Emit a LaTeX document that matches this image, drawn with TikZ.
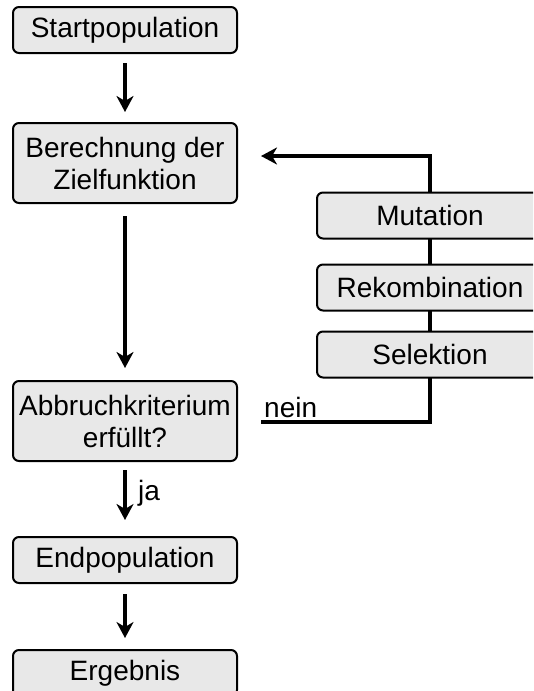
\documentclass[tikz,border=0pt]{standalone}
\usepackage{fontspec}
\setmainfont{Liberation Sans}
\usetikzlibrary{arrows.meta,backgrounds}
\definecolor{boxgray}{HTML}{E8E8E8}
\tikzset{
  box/.style={draw=black, line width=2pt, fill=boxgray, rounded corners=6pt,
    minimum width=224pt, minimum height=46pt, align=center, inner sep=0pt,
    font=\fontsize{28}{32}\selectfont},
  tallbox/.style={box, minimum height=80pt},
  flow/.style={line width=3.6pt, -{Stealth[length=16pt,width=17pt,inset=5pt]}},
  lbl/.style={font=\fontsize{28}{32}\selectfont, inner sep=0pt}
}
\begin{document}
\begin{tikzpicture}[x=1pt,y=-1pt]
\path[use as bounding box, clip] (0,0) rectangle (533,691);
\node[box] (start) at (125,30) {Startpopulation};
\node[tallbox] (ber) at (125,163) {Berechnung der\\Zielfunktion};
\node[tallbox] (abb) at (125,421) {Abbruchkriterium\\erfüllt?};
\node[box] (endp) at (125,560) {Endpopulation};
\node[box] (erg) at (125,673) {Ergebnis};
\node[box, minimum width=226pt] (mut) at (430,215.5) {Mutation};
\node[box, minimum width=226pt] (rek) at (430,287.5) {Rekombination};
\node[box, minimum width=226pt] (sel) at (430,354.5) {Selektion};

\draw[flow] ([yshift=-9pt]start.south) -- ([yshift=10pt]ber.north);
\draw[flow] ([yshift=-12pt]ber.south) -- ([yshift=12pt]abb.north);
\draw[flow] ([yshift=-8pt]abb.south) -- ([yshift=16pt]endp.north);
\draw[flow] ([yshift=-10pt]endp.south) -- ([yshift=11pt]erg.north);
\node[lbl, anchor=base west] (ja) at (138,500) {ja};

\coordinate (ls) at ([xshift=23pt,yshift=-1pt]abb.east);
\coordinate (le) at ([xshift=23pt,yshift=7pt]ber.east);
\begin{scope}[on background layer]
\draw[flow] (ls) -| (mut.north |- le) -- (le);
\end{scope}
\node[lbl, anchor=base west] (nein) at ([xshift=3pt,yshift=5pt]ls) {nein};
\end{tikzpicture}
\end{document}
